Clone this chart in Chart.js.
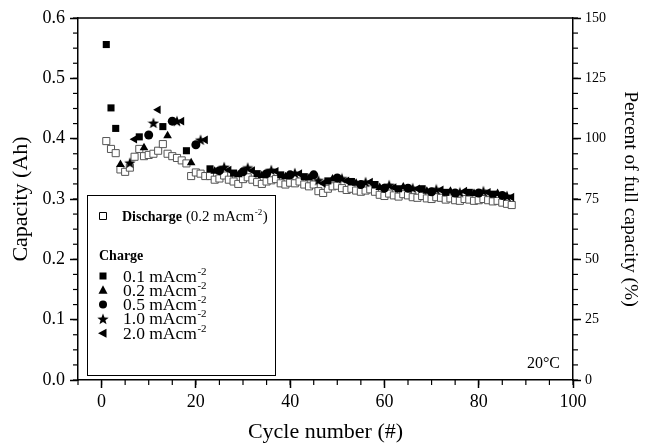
<!DOCTYPE html>
<html>
<head>
<meta charset="utf-8">
<script src="https://cdn.jsdelivr.net/npm/chart.js@4"></script>
<style>
  html, body { margin: 0; padding: 0; background: #fff; }
</style>
</head>
<body>
<canvas id="capChart" width="647" height="444"></canvas>
<script>
// discharge capacity for cycles 1..87 (Ah)
const dischargeCycles = Array.from({ length: 87 }, (_, i) => i + 1);
const discharge = [
    0.396, 0.383, 0.376, 0.349, 0.345, 0.352, 0.370, 0.383, 0.371, 0.373,
    0.375, 0.380, 0.391, 0.375, 0.371, 0.368, 0.364, 0.359, 0.338, 0.344,
    0.342, 0.338, 0.338, 0.332, 0.334, 0.339, 0.332, 0.329, 0.325, 0.333,
    0.336, 0.332, 0.328, 0.325, 0.329, 0.331, 0.333, 0.326, 0.324, 0.327,
    0.326, 0.329, 0.324, 0.321, 0.324, 0.313, 0.310, 0.317, 0.321, 0.322,
    0.318, 0.315, 0.317, 0.314, 0.312, 0.314, 0.316, 0.312, 0.307, 0.305,
    0.309, 0.306, 0.304, 0.308, 0.306, 0.303, 0.302, 0.305, 0.301, 0.300,
    0.303, 0.302, 0.299, 0.301, 0.298, 0.297, 0.300, 0.299, 0.297, 0.298,
    0.300, 0.298, 0.296, 0.297, 0.294, 0.292, 0.290
];

// charge capacity, one array pair per charge rate
const charge01Cycles = [1, 2, 3, 8, 13, 18, 23, 28, 33, 38, 43, 48, 53, 58, 63, 68, 73, 78, 83];
const charge01 = [0.556, 0.451, 0.417, 0.403, 0.420, 0.380, 0.350, 0.343, 0.342, 0.340, 0.337, 0.330, 0.329, 0.324, 0.317, 0.317, 0.311, 0.311, 0.308];

const charge02Cycles = [4, 9, 14, 19, 24, 29, 34, 39, 44, 49, 54, 59, 64, 69, 74, 79, 84];
const charge02 = [0.357, 0.385, 0.405, 0.360, 0.346, 0.340, 0.339, 0.337, 0.335, 0.333, 0.326, 0.319, 0.320, 0.313, 0.313, 0.309, 0.309];

const charge05Cycles = [10, 15, 20, 25, 30, 35, 40, 45, 50, 55, 60, 65, 70, 75, 80, 85];
const charge05 = [0.406, 0.429, 0.390, 0.347, 0.345, 0.342, 0.340, 0.340, 0.335, 0.324, 0.318, 0.318, 0.312, 0.310, 0.310, 0.306];

const charge10Cycles = [6, 11, 16, 21, 26, 31, 36, 41, 46, 51, 56, 61, 66, 71, 76, 81, 86];
const charge10 = [0.360, 0.426, 0.429, 0.398, 0.353, 0.352, 0.348, 0.343, 0.331, 0.334, 0.328, 0.323, 0.318, 0.316, 0.311, 0.313, 0.305];

const charge20Cycles = [7, 12, 17, 22, 27, 32, 37, 42, 47, 52, 57, 62, 67, 72, 77, 82, 87];
const charge20 = [0.399, 0.448, 0.429, 0.398, 0.348, 0.347, 0.346, 0.342, 0.326, 0.330, 0.328, 0.319, 0.317, 0.315, 0.313, 0.311, 0.303];

// legend text
const legendRates = ['0.1', '0.2', '0.5', '1.0', '2.0'];

const serif = '"Liberation Serif", "Times New Roman", serif';

function toPoints(xs, ys) {
    return xs.map((x, i) => ({ x: x, y: ys[i] }));
}

// filled five point star used as point style
function makeStar(size) {
    const c = document.createElement('canvas');
    c.width = size;
    c.height = size;
    const g = c.getContext('2d');
    const cx = size / 2, cy = size / 2 + 0.5;
    const outer = size / 2, inner = outer * 0.42;
    g.beginPath();
    for (let i = 0; i < 10; i++) {
        const r = i % 2 === 0 ? outer : inner;
        const a = -Math.PI / 2 + i * Math.PI / 5;
        g.lineTo(cx + r * Math.cos(a), cy + r * Math.sin(a));
    }
    g.closePath();
    g.fillStyle = '#000';
    g.fill();
    return c;
}
const starImg = makeStar(12);

function chargeSet(label, xs, ys, style, radius, rotation) {
    return {
        label: label,
        data: toPoints(xs, ys),
        showLine: false,
        pointStyle: style,
        pointRadius: radius,
        pointRotation: rotation || 0,
        backgroundColor: '#000',
        borderColor: '#000',
        borderWidth: 0
    };
}

// draw a marker in the legend box
function drawMarker(ctx, kind, x, y) {
    ctx.save();
    ctx.fillStyle = '#000';
    ctx.strokeStyle = '#000';
    ctx.beginPath();
    if (kind === 'open') {
        ctx.lineWidth = 1;
        ctx.fillStyle = '#fff';
        ctx.rect(x - 3.5, y - 3.5, 7, 7);
        ctx.fill();
        ctx.stroke();
    } else if (kind === 'rect') {
        ctx.rect(x - 3.5, y - 3.5, 7, 7);
        ctx.fill();
    } else if (kind === 'up') {
        ctx.moveTo(x, y - 5);
        ctx.lineTo(x + 4.5, y + 3.5);
        ctx.lineTo(x - 4.5, y + 3.5);
        ctx.closePath();
        ctx.fill();
    } else if (kind === 'circle') {
        ctx.arc(x, y, 4, 0, Math.PI * 2);
        ctx.fill();
    } else if (kind === 'star') {
        ctx.drawImage(starImg, x - 6, y - 6);
    } else if (kind === 'left') {
        ctx.moveTo(x - 5, y);
        ctx.lineTo(x + 3.5, y - 4.5);
        ctx.lineTo(x + 3.5, y + 4.5);
        ctx.closePath();
        ctx.fill();
    }
    ctx.restore();
}

// text with a "-2" superscript
function drawRateText(ctx, x, y, text, size) {
    ctx.font = size + 'px ' + serif;
    ctx.fillText(text, x, y);
    const w = ctx.measureText(text).width;
    ctx.font = Math.round(size * 0.6) + 'px ' + serif;
    ctx.fillText('-2', x + w + 0.5, y - size * 0.4);
    return w + ctx.measureText('-2').width;
}

const frameAndLegend = {
    id: 'frameAndLegend',
    afterDraw(chart) {
        const ctx = chart.ctx;
        const area = chart.chartArea;
        ctx.save();
        ctx.strokeStyle = '#000';
        ctx.lineWidth = 1.5;

        // top frame line
        ctx.beginPath();
        ctx.moveTo(area.left, area.top);
        ctx.lineTo(area.right, area.top);
        ctx.stroke();

        // minor ticks
        const minor = [
            { scale: chart.scales.x, step: 5, side: 'bottom' },
            { scale: chart.scales.y, step: 0.025, side: 'left' },
            { scale: chart.scales.y1, step: 6.25, side: 'right' }
        ];
        ctx.lineWidth = 1.2;
        minor.forEach(m => {
            const s = m.scale;
            const n = Math.round((s.max - s.min) / m.step);
            for (let i = 0; i <= n; i++) {
                const v = s.min + i * m.step;
                ctx.beginPath();
                if (m.side === 'bottom') {
                    const px = s.getPixelForValue(v);
                    ctx.moveTo(px, area.bottom);
                    ctx.lineTo(px, area.bottom + 5);
                } else if (m.side === 'left') {
                    const py = s.getPixelForValue(v);
                    ctx.moveTo(area.left, py);
                    ctx.lineTo(area.left - 5, py);
                } else {
                    const py = s.getPixelForValue(v);
                    ctx.moveTo(area.right, py);
                    ctx.lineTo(area.right + 5, py);
                }
                ctx.stroke();
            }
        });

        // legend box
        const bx = 87, by = 195, bw = 188, bh = 180;
        ctx.fillStyle = '#fff';
        ctx.fillRect(bx, by, bw, bh);
        ctx.lineWidth = 1;
        ctx.strokeRect(bx + 0.5, by + 0.5, bw, bh);

        ctx.fillStyle = '#000';
        ctx.textBaseline = 'alphabetic';
        ctx.textAlign = 'left';

        drawMarker(ctx, 'open', 103, 216);
        ctx.font = 'bold 14px ' + serif;
        ctx.fillText('Discharge', 122, 221);
        const dw = ctx.measureText('Discharge').width + 4;
        ctx.font = '15px ' + serif;
        ctx.fillText('(0.2 mAcm', 122 + dw, 221);
        const pw = ctx.measureText('(0.2 mAcm').width;
        ctx.font = '9px ' + serif;
        ctx.fillText('-2', 122 + dw + pw + 0.5, 215);
        const sw = ctx.measureText('-2').width;
        ctx.font = '15px ' + serif;
        ctx.fillText(')', 122 + dw + pw + sw + 1, 221);

        ctx.font = 'bold 14px ' + serif;
        ctx.fillText('Charge', 99, 260);

        const kinds = ['rect', 'up', 'circle', 'star', 'left'];
        legendRates.forEach((r, i) => {
            const y = 276 + i * 14.3;
            drawMarker(ctx, kinds[i], 103, y);
            ctx.fillStyle = '#000';
            drawRateText(ctx, 123, y + 5.5, r + ' mAcm', 17.5);
        });

        // temperature label
        ctx.font = '16px ' + serif;
        ctx.textAlign = 'right';
        ctx.fillText('20°C', 560, 368);
        ctx.restore();
    }
};

const ctx = document.getElementById('capChart').getContext('2d');
const capChart = new Chart(ctx, {
    type: 'scatter',
    data: {
        datasets: [
            chargeSet('0.1 mAcm-2', charge01Cycles, charge01, 'rect', 5),
            chargeSet('0.2 mAcm-2', charge02Cycles, charge02, 'triangle', 5),
            chargeSet('0.5 mAcm-2', charge05Cycles, charge05, 'circle', 4.5),
            chargeSet('1.0 mAcm-2', charge10Cycles, charge10, starImg, 6),
            chargeSet('2.0 mAcm-2', charge20Cycles, charge20, 'triangle', 5, -90),
            {
                label: 'Discharge (0.2 mAcm-2)',
                data: toPoints(dischargeCycles, discharge),
                showLine: false,
                pointStyle: 'rect',
                pointRadius: 5,
                backgroundColor: '#fff',
                borderColor: '#555',
                borderWidth: 1
            }
        ]
    },
    options: {
        responsive: false,
        devicePixelRatio: 1,
        animation: false,
        layout: { padding: { top: 18, left: 0, right: 0, bottom: 0 } },
        plugins: {
            legend: { display: false },
            tooltip: { enabled: false }
        },
        scales: {
            x: {
                type: 'linear',
                min: -5,
                max: 100,
                afterFit(scale) { scale.height = 64; },
                ticks: {
                    stepSize: 20,
                    includeBounds: false,
                    color: '#000',
                    padding: 3,
                    font: { family: serif, size: 18 }
                },
                grid: {
                    drawOnChartArea: false,
                    tickLength: 8,
                    tickWidth: 1.5,
                    tickColor: '#000'
                },
                border: { display: true, color: '#000', width: 1.5 },
                title: {
                    display: true,
                    text: 'Cycle number (#)',
                    color: '#000',
                    font: { family: serif, size: 22, lineHeight: 1 },
                    padding: { top: 0, bottom: 1 }
                }
            },
            y: {
                position: 'left',
                min: 0,
                max: 0.6,
                afterFit(scale) { scale.width = 78; },
                ticks: {
                    stepSize: 0.1,
                    color: '#000',
                    padding: 5,
                    font: { family: serif, size: 18 },
                    callback: v => v.toFixed(1)
                },
                grid: {
                    drawOnChartArea: false,
                    tickLength: 8,
                    tickWidth: 1.5,
                    tickColor: '#000'
                },
                border: { display: true, color: '#000', width: 1.5 },
                title: {
                    display: true,
                    text: 'Capacity (Ah)',
                    color: '#000',
                    font: { family: serif, size: 22, lineHeight: 1 },
                    padding: { top: 10, bottom: 0 }
                }
            },
            y1: {
                position: 'right',
                min: 0,
                max: 150,
                afterFit(scale) { scale.width = 74; },
                ticks: {
                    stepSize: 25,
                    color: '#000',
                    padding: 4,
                    font: { family: serif, size: 14 }
                },
                grid: {
                    drawOnChartArea: false,
                    tickLength: 8,
                    tickWidth: 1.5,
                    tickColor: '#000'
                },
                border: { display: true, color: '#000', width: 1.5 },
                title: {
                    display: true,
                    text: 'Percent of full capacity (%)',
                    color: '#000',
                    font: { family: serif, size: 19.5, lineHeight: 1 },
                    padding: { top: 7, bottom: 0 }
                }
            }
        }
    },
    plugins: [frameAndLegend]
});
</script>
</body>
</html>
